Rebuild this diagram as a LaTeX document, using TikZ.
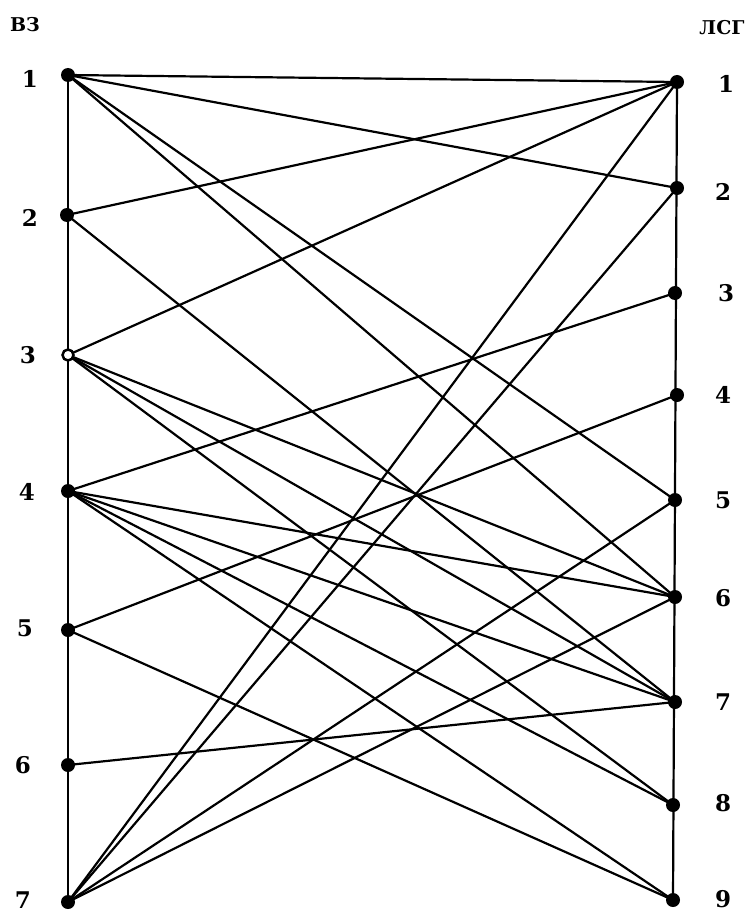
\documentclass[tikz,border=0pt]{standalone}
\usepackage{fontspec}
\setmainfont{DejaVu Serif}
\begin{document}
\begin{tikzpicture}[x=1pt,y=-1pt,
  dot/.style={circle,fill=black,inner sep=0pt,minimum size=14pt},
  ring/.style={circle,draw=black,fill=white,line width=2.5pt,inner sep=0pt,minimum size=11pt},
  num/.style={font=\fontsize{23}{23}\selectfont\bfseries,inner sep=0pt},
  head/.style={font=\fontsize{19}{19}\selectfont\bfseries,inner sep=0pt},
  edge/.style={line width=2.2pt,line cap=round}]
\useasboundingbox (0,0) rectangle (750,915);
% left nodes
\coordinate (l1) at (68,75);
\coordinate (l2) at (67,215);
\coordinate (l3) at (68,355);
\coordinate (l4) at (68,491);
\coordinate (l5) at (68,630);
\coordinate (l6) at (68,765);
\coordinate (l7) at (68,902);
% right nodes
\coordinate (r1) at (677,82);
\coordinate (r2) at (677,188);
\coordinate (r3) at (675,293);
\coordinate (r4) at (677,395);
\coordinate (r5) at (675,500);
\coordinate (r6) at (675,597);
\coordinate (r7) at (675,702);
\coordinate (r8) at (673,805);
\coordinate (r9) at (673,900);
% verticals
\draw[edge] (l1) -- (l7);
\draw[edge] (r1) -- (r9);
% edges
\foreach \a/\b in {l1/r1,l1/r2,l1/r5,l1/r6,
  l2/r1,l2/r7,
  l3/r1,l3/r6,l3/r7,l3/r8,
  l4/r3,l4/r6,l4/r7,l4/r8,l4/r9,
  l5/r4,l5/r9,
  l6/r7,
  l7/r1,l7/r2,l7/r5,l7/r6}
  \draw[edge] (\a) -- (\b);
% dots
\foreach \n in {l1,l2,l4,l5,l6,l7,r1,r2,r3,r4,r5,r6,r7,r8,r9}
  \node[dot] (d\n) at (\n) {};
\node[ring] (dl3) at (l3) {};
% labels
\node[head] (hl) at (25,25) {ВЗ};
\node[head] (hr) at (722,28) {ЛСГ};
\node[num] (n1) at (30,79) {1};
\node[num] (n2) at (30,218) {2};
\node[num] (n3) at (28,355) {3};
\node[num] (n4) at (27,492) {4};
\node[num] (n5) at (25,628) {5};
\node[num] (n6) at (23,765) {6};
\node[num] (n7) at (23,900) {7};
\node[num] (m1) at (726,84) {1};
\node[num] (m2) at (723,192) {2};
\node[num] (m3) at (726,293) {3};
\node[num] (m4) at (723,395) {4};
\node[num] (m5) at (723,500) {5};
\node[num] (m6) at (723,598) {6};
\node[num] (m7) at (723,702) {7};
\node[num] (m8) at (723,803) {8};
\node[num] (m9) at (723,899) {9};
\end{tikzpicture}
\end{document}
